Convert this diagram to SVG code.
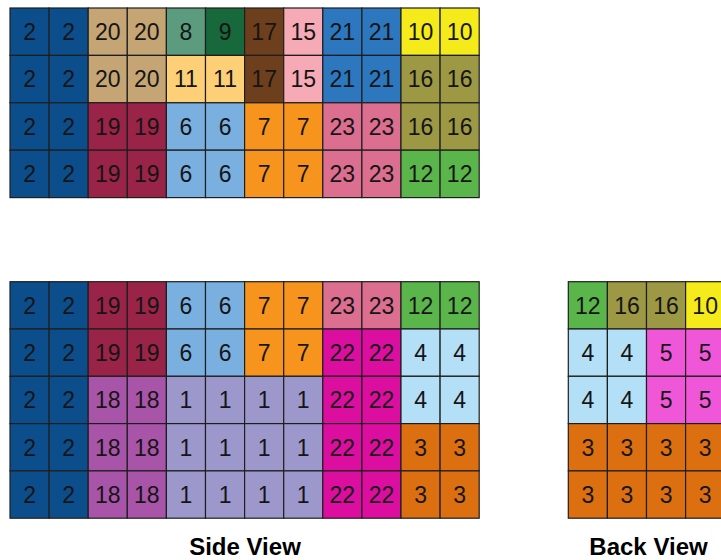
<svg xmlns="http://www.w3.org/2000/svg" width="721" height="560" viewBox="0 0 721 560">
<style>
.cell{stroke:#1e1e1e;stroke-width:1.2}
.l{font-family:"Liberation Sans",Arial,sans-serif;font-size:23px;fill:#151515;text-anchor:middle}
.ttl{font-family:"Liberation Sans",Arial,sans-serif;font-size:24px;font-weight:bold;fill:#000;text-anchor:middle}
.k1{fill:#9c98cc}.k2{fill:#0c4e8c}.k3{fill:#dc6f10}.k4{fill:#b3e0f6}.k5{fill:#f056d8}.k6{fill:#7ab0e0}.k7{fill:#f7941d}.k8{fill:#5b9b7e}.k9{fill:#17683a}.k10{fill:#f5ea1a}.k11{fill:#fdd078}.k12{fill:#5ab54b}.k15{fill:#f5aab5}.k16{fill:#9c9844}.k17{fill:#6e3f1c}.k18{fill:#a854a8}.k19{fill:#9a2448}.k20{fill:#c6a574}.k21{fill:#2c77be}.k22{fill:#dc0ea0}.k23{fill:#dc6e8f}
</style>
<g id="top-view">
<g id="t00"><rect class="cell k2" x="10" y="8" width="39.1" height="47.4"/><text class="l" x="29.55" y="40">2</text></g>
<g id="t01"><rect class="cell k2" x="49.1" y="8" width="39.1" height="47.4"/><text class="l" x="68.65" y="40">2</text></g>
<g id="t02"><rect class="cell k20" x="88.2" y="8" width="39.1" height="47.4"/><text class="l" x="107.75" y="40">20</text></g>
<g id="t03"><rect class="cell k20" x="127.3" y="8" width="39.1" height="47.4"/><text class="l" x="146.85" y="40">20</text></g>
<g id="t04"><rect class="cell k8" x="166.4" y="8" width="39.1" height="47.4"/><text class="l" x="185.95" y="40">8</text></g>
<g id="t05"><rect class="cell k9" x="205.5" y="8" width="39.1" height="47.4"/><text class="l" x="225.05" y="40">9</text></g>
<g id="t06"><rect class="cell k17" x="244.6" y="8" width="39.1" height="47.4"/><text class="l" x="264.15" y="40">17</text></g>
<g id="t07"><rect class="cell k15" x="283.7" y="8" width="39.1" height="47.4"/><text class="l" x="303.25" y="40">15</text></g>
<g id="t08"><rect class="cell k21" x="322.8" y="8" width="39.1" height="47.4"/><text class="l" x="342.35" y="40">21</text></g>
<g id="t09"><rect class="cell k21" x="361.9" y="8" width="39.1" height="47.4"/><text class="l" x="381.45" y="40">21</text></g>
<g id="t010"><rect class="cell k10" x="401" y="8" width="39.1" height="47.4"/><text class="l" x="420.55" y="40">10</text></g>
<g id="t011"><rect class="cell k10" x="440.1" y="8" width="39.1" height="47.4"/><text class="l" x="459.65" y="40">10</text></g>

<g id="t10"><rect class="cell k2" x="10" y="55.4" width="39.1" height="47.4"/><text class="l" x="29.55" y="87.4">2</text></g>
<g id="t11"><rect class="cell k2" x="49.1" y="55.4" width="39.1" height="47.4"/><text class="l" x="68.65" y="87.4">2</text></g>
<g id="t12"><rect class="cell k20" x="88.2" y="55.4" width="39.1" height="47.4"/><text class="l" x="107.75" y="87.4">20</text></g>
<g id="t13"><rect class="cell k20" x="127.3" y="55.4" width="39.1" height="47.4"/><text class="l" x="146.85" y="87.4">20</text></g>
<g id="t14"><rect class="cell k11" x="166.4" y="55.4" width="39.1" height="47.4"/><text class="l" x="185.95" y="87.4">11</text></g>
<g id="t15"><rect class="cell k11" x="205.5" y="55.4" width="39.1" height="47.4"/><text class="l" x="225.05" y="87.4">11</text></g>
<g id="t16"><rect class="cell k17" x="244.6" y="55.4" width="39.1" height="47.4"/><text class="l" x="264.15" y="87.4">17</text></g>
<g id="t17"><rect class="cell k15" x="283.7" y="55.4" width="39.1" height="47.4"/><text class="l" x="303.25" y="87.4">15</text></g>
<g id="t18"><rect class="cell k21" x="322.8" y="55.4" width="39.1" height="47.4"/><text class="l" x="342.35" y="87.4">21</text></g>
<g id="t19"><rect class="cell k21" x="361.9" y="55.4" width="39.1" height="47.4"/><text class="l" x="381.45" y="87.4">21</text></g>
<g id="t110"><rect class="cell k16" x="401" y="55.4" width="39.1" height="47.4"/><text class="l" x="420.55" y="87.4">16</text></g>
<g id="t111"><rect class="cell k16" x="440.1" y="55.4" width="39.1" height="47.4"/><text class="l" x="459.65" y="87.4">16</text></g>

<g id="t20"><rect class="cell k2" x="10" y="102.8" width="39.1" height="47.4"/><text class="l" x="29.55" y="134.8">2</text></g>
<g id="t21"><rect class="cell k2" x="49.1" y="102.8" width="39.1" height="47.4"/><text class="l" x="68.65" y="134.8">2</text></g>
<g id="t22"><rect class="cell k19" x="88.2" y="102.8" width="39.1" height="47.4"/><text class="l" x="107.75" y="134.8">19</text></g>
<g id="t23"><rect class="cell k19" x="127.3" y="102.8" width="39.1" height="47.4"/><text class="l" x="146.85" y="134.8">19</text></g>
<g id="t24"><rect class="cell k6" x="166.4" y="102.8" width="39.1" height="47.4"/><text class="l" x="185.95" y="134.8">6</text></g>
<g id="t25"><rect class="cell k6" x="205.5" y="102.8" width="39.1" height="47.4"/><text class="l" x="225.05" y="134.8">6</text></g>
<g id="t26"><rect class="cell k7" x="244.6" y="102.8" width="39.1" height="47.4"/><text class="l" x="264.15" y="134.8">7</text></g>
<g id="t27"><rect class="cell k7" x="283.7" y="102.8" width="39.1" height="47.4"/><text class="l" x="303.25" y="134.8">7</text></g>
<g id="t28"><rect class="cell k23" x="322.8" y="102.8" width="39.1" height="47.4"/><text class="l" x="342.35" y="134.8">23</text></g>
<g id="t29"><rect class="cell k23" x="361.9" y="102.8" width="39.1" height="47.4"/><text class="l" x="381.45" y="134.8">23</text></g>
<g id="t210"><rect class="cell k16" x="401" y="102.8" width="39.1" height="47.4"/><text class="l" x="420.55" y="134.8">16</text></g>
<g id="t211"><rect class="cell k16" x="440.1" y="102.8" width="39.1" height="47.4"/><text class="l" x="459.65" y="134.8">16</text></g>

<g id="t30"><rect class="cell k2" x="10" y="150.2" width="39.1" height="47.4"/><text class="l" x="29.55" y="182.2">2</text></g>
<g id="t31"><rect class="cell k2" x="49.1" y="150.2" width="39.1" height="47.4"/><text class="l" x="68.65" y="182.2">2</text></g>
<g id="t32"><rect class="cell k19" x="88.2" y="150.2" width="39.1" height="47.4"/><text class="l" x="107.75" y="182.2">19</text></g>
<g id="t33"><rect class="cell k19" x="127.3" y="150.2" width="39.1" height="47.4"/><text class="l" x="146.85" y="182.2">19</text></g>
<g id="t34"><rect class="cell k6" x="166.4" y="150.2" width="39.1" height="47.4"/><text class="l" x="185.95" y="182.2">6</text></g>
<g id="t35"><rect class="cell k6" x="205.5" y="150.2" width="39.1" height="47.4"/><text class="l" x="225.05" y="182.2">6</text></g>
<g id="t36"><rect class="cell k7" x="244.6" y="150.2" width="39.1" height="47.4"/><text class="l" x="264.15" y="182.2">7</text></g>
<g id="t37"><rect class="cell k7" x="283.7" y="150.2" width="39.1" height="47.4"/><text class="l" x="303.25" y="182.2">7</text></g>
<g id="t38"><rect class="cell k23" x="322.8" y="150.2" width="39.1" height="47.4"/><text class="l" x="342.35" y="182.2">23</text></g>
<g id="t39"><rect class="cell k23" x="361.9" y="150.2" width="39.1" height="47.4"/><text class="l" x="381.45" y="182.2">23</text></g>
<g id="t310"><rect class="cell k12" x="401" y="150.2" width="39.1" height="47.4"/><text class="l" x="420.55" y="182.2">12</text></g>
<g id="t311"><rect class="cell k12" x="440.1" y="150.2" width="39.1" height="47.4"/><text class="l" x="459.65" y="182.2">12</text></g>
</g>

<g id="side-view">
<g id="s00"><rect class="cell k2" x="10" y="281.7" width="39.1" height="47.3"/><text class="l" x="29.55" y="313.7">2</text></g>
<g id="s01"><rect class="cell k2" x="49.1" y="281.7" width="39.1" height="47.3"/><text class="l" x="68.65" y="313.7">2</text></g>
<g id="s02"><rect class="cell k19" x="88.2" y="281.7" width="39.1" height="47.3"/><text class="l" x="107.75" y="313.7">19</text></g>
<g id="s03"><rect class="cell k19" x="127.3" y="281.7" width="39.1" height="47.3"/><text class="l" x="146.85" y="313.7">19</text></g>
<g id="s04"><rect class="cell k6" x="166.4" y="281.7" width="39.1" height="47.3"/><text class="l" x="185.95" y="313.7">6</text></g>
<g id="s05"><rect class="cell k6" x="205.5" y="281.7" width="39.1" height="47.3"/><text class="l" x="225.05" y="313.7">6</text></g>
<g id="s06"><rect class="cell k7" x="244.6" y="281.7" width="39.1" height="47.3"/><text class="l" x="264.15" y="313.7">7</text></g>
<g id="s07"><rect class="cell k7" x="283.7" y="281.7" width="39.1" height="47.3"/><text class="l" x="303.25" y="313.7">7</text></g>
<g id="s08"><rect class="cell k23" x="322.8" y="281.7" width="39.1" height="47.3"/><text class="l" x="342.35" y="313.7">23</text></g>
<g id="s09"><rect class="cell k23" x="361.9" y="281.7" width="39.1" height="47.3"/><text class="l" x="381.45" y="313.7">23</text></g>
<g id="s010"><rect class="cell k12" x="401" y="281.7" width="39.1" height="47.3"/><text class="l" x="420.55" y="313.7">12</text></g>
<g id="s011"><rect class="cell k12" x="440.1" y="281.7" width="39.1" height="47.3"/><text class="l" x="459.65" y="313.7">12</text></g>

<g id="s10"><rect class="cell k2" x="10" y="329" width="39.1" height="47.3"/><text class="l" x="29.55" y="361">2</text></g>
<g id="s11"><rect class="cell k2" x="49.1" y="329" width="39.1" height="47.3"/><text class="l" x="68.65" y="361">2</text></g>
<g id="s12"><rect class="cell k19" x="88.2" y="329" width="39.1" height="47.3"/><text class="l" x="107.75" y="361">19</text></g>
<g id="s13"><rect class="cell k19" x="127.3" y="329" width="39.1" height="47.3"/><text class="l" x="146.85" y="361">19</text></g>
<g id="s14"><rect class="cell k6" x="166.4" y="329" width="39.1" height="47.3"/><text class="l" x="185.95" y="361">6</text></g>
<g id="s15"><rect class="cell k6" x="205.5" y="329" width="39.1" height="47.3"/><text class="l" x="225.05" y="361">6</text></g>
<g id="s16"><rect class="cell k7" x="244.6" y="329" width="39.1" height="47.3"/><text class="l" x="264.15" y="361">7</text></g>
<g id="s17"><rect class="cell k7" x="283.7" y="329" width="39.1" height="47.3"/><text class="l" x="303.25" y="361">7</text></g>
<g id="s18"><rect class="cell k22" x="322.8" y="329" width="39.1" height="47.3"/><text class="l" x="342.35" y="361">22</text></g>
<g id="s19"><rect class="cell k22" x="361.9" y="329" width="39.1" height="47.3"/><text class="l" x="381.45" y="361">22</text></g>
<g id="s110"><rect class="cell k4" x="401" y="329" width="39.1" height="47.3"/><text class="l" x="420.55" y="361">4</text></g>
<g id="s111"><rect class="cell k4" x="440.1" y="329" width="39.1" height="47.3"/><text class="l" x="459.65" y="361">4</text></g>

<g id="s20"><rect class="cell k2" x="10" y="376.3" width="39.1" height="47.3"/><text class="l" x="29.55" y="408.3">2</text></g>
<g id="s21"><rect class="cell k2" x="49.1" y="376.3" width="39.1" height="47.3"/><text class="l" x="68.65" y="408.3">2</text></g>
<g id="s22"><rect class="cell k18" x="88.2" y="376.3" width="39.1" height="47.3"/><text class="l" x="107.75" y="408.3">18</text></g>
<g id="s23"><rect class="cell k18" x="127.3" y="376.3" width="39.1" height="47.3"/><text class="l" x="146.85" y="408.3">18</text></g>
<g id="s24"><rect class="cell k1" x="166.4" y="376.3" width="39.1" height="47.3"/><text class="l" x="185.95" y="408.3">1</text></g>
<g id="s25"><rect class="cell k1" x="205.5" y="376.3" width="39.1" height="47.3"/><text class="l" x="225.05" y="408.3">1</text></g>
<g id="s26"><rect class="cell k1" x="244.6" y="376.3" width="39.1" height="47.3"/><text class="l" x="264.15" y="408.3">1</text></g>
<g id="s27"><rect class="cell k1" x="283.7" y="376.3" width="39.1" height="47.3"/><text class="l" x="303.25" y="408.3">1</text></g>
<g id="s28"><rect class="cell k22" x="322.8" y="376.3" width="39.1" height="47.3"/><text class="l" x="342.35" y="408.3">22</text></g>
<g id="s29"><rect class="cell k22" x="361.9" y="376.3" width="39.1" height="47.3"/><text class="l" x="381.45" y="408.3">22</text></g>
<g id="s210"><rect class="cell k4" x="401" y="376.3" width="39.1" height="47.3"/><text class="l" x="420.55" y="408.3">4</text></g>
<g id="s211"><rect class="cell k4" x="440.1" y="376.3" width="39.1" height="47.3"/><text class="l" x="459.65" y="408.3">4</text></g>

<g id="s30"><rect class="cell k2" x="10" y="423.6" width="39.1" height="47.3"/><text class="l" x="29.55" y="455.6">2</text></g>
<g id="s31"><rect class="cell k2" x="49.1" y="423.6" width="39.1" height="47.3"/><text class="l" x="68.65" y="455.6">2</text></g>
<g id="s32"><rect class="cell k18" x="88.2" y="423.6" width="39.1" height="47.3"/><text class="l" x="107.75" y="455.6">18</text></g>
<g id="s33"><rect class="cell k18" x="127.3" y="423.6" width="39.1" height="47.3"/><text class="l" x="146.85" y="455.6">18</text></g>
<g id="s34"><rect class="cell k1" x="166.4" y="423.6" width="39.1" height="47.3"/><text class="l" x="185.95" y="455.6">1</text></g>
<g id="s35"><rect class="cell k1" x="205.5" y="423.6" width="39.1" height="47.3"/><text class="l" x="225.05" y="455.6">1</text></g>
<g id="s36"><rect class="cell k1" x="244.6" y="423.6" width="39.1" height="47.3"/><text class="l" x="264.15" y="455.6">1</text></g>
<g id="s37"><rect class="cell k1" x="283.7" y="423.6" width="39.1" height="47.3"/><text class="l" x="303.25" y="455.6">1</text></g>
<g id="s38"><rect class="cell k22" x="322.8" y="423.6" width="39.1" height="47.3"/><text class="l" x="342.35" y="455.6">22</text></g>
<g id="s39"><rect class="cell k22" x="361.9" y="423.6" width="39.1" height="47.3"/><text class="l" x="381.45" y="455.6">22</text></g>
<g id="s310"><rect class="cell k3" x="401" y="423.6" width="39.1" height="47.3"/><text class="l" x="420.55" y="455.6">3</text></g>
<g id="s311"><rect class="cell k3" x="440.1" y="423.6" width="39.1" height="47.3"/><text class="l" x="459.65" y="455.6">3</text></g>

<g id="s40"><rect class="cell k2" x="10" y="470.9" width="39.1" height="47.3"/><text class="l" x="29.55" y="502.9">2</text></g>
<g id="s41"><rect class="cell k2" x="49.1" y="470.9" width="39.1" height="47.3"/><text class="l" x="68.65" y="502.9">2</text></g>
<g id="s42"><rect class="cell k18" x="88.2" y="470.9" width="39.1" height="47.3"/><text class="l" x="107.75" y="502.9">18</text></g>
<g id="s43"><rect class="cell k18" x="127.3" y="470.9" width="39.1" height="47.3"/><text class="l" x="146.85" y="502.9">18</text></g>
<g id="s44"><rect class="cell k1" x="166.4" y="470.9" width="39.1" height="47.3"/><text class="l" x="185.95" y="502.9">1</text></g>
<g id="s45"><rect class="cell k1" x="205.5" y="470.9" width="39.1" height="47.3"/><text class="l" x="225.05" y="502.9">1</text></g>
<g id="s46"><rect class="cell k1" x="244.6" y="470.9" width="39.1" height="47.3"/><text class="l" x="264.15" y="502.9">1</text></g>
<g id="s47"><rect class="cell k1" x="283.7" y="470.9" width="39.1" height="47.3"/><text class="l" x="303.25" y="502.9">1</text></g>
<g id="s48"><rect class="cell k22" x="322.8" y="470.9" width="39.1" height="47.3"/><text class="l" x="342.35" y="502.9">22</text></g>
<g id="s49"><rect class="cell k22" x="361.9" y="470.9" width="39.1" height="47.3"/><text class="l" x="381.45" y="502.9">22</text></g>
<g id="s410"><rect class="cell k3" x="401" y="470.9" width="39.1" height="47.3"/><text class="l" x="420.55" y="502.9">3</text></g>
<g id="s411"><rect class="cell k3" x="440.1" y="470.9" width="39.1" height="47.3"/><text class="l" x="459.65" y="502.9">3</text></g>
<text id="side-title" class="ttl" x="245" y="555">Side View</text>
</g>

<g id="back-view">
<g id="b00"><rect class="cell k12" x="568.3" y="281.7" width="39.1" height="47.3"/><text class="l" x="587.85" y="313.7">12</text></g>
<g id="b01"><rect class="cell k16" x="607.4" y="281.7" width="39.1" height="47.3"/><text class="l" x="626.95" y="313.7">16</text></g>
<g id="b02"><rect class="cell k16" x="646.5" y="281.7" width="39.1" height="47.3"/><text class="l" x="666.05" y="313.7">16</text></g>
<g id="b03"><rect class="cell k10" x="685.6" y="281.7" width="39.1" height="47.3"/><text class="l" x="705.15" y="313.7">10</text></g>
<g id="b10"><rect class="cell k4" x="568.3" y="329" width="39.1" height="47.3"/><text class="l" x="587.85" y="361">4</text></g>
<g id="b11"><rect class="cell k4" x="607.4" y="329" width="39.1" height="47.3"/><text class="l" x="626.95" y="361">4</text></g>
<g id="b12"><rect class="cell k5" x="646.5" y="329" width="39.1" height="47.3"/><text class="l" x="666.05" y="361">5</text></g>
<g id="b13"><rect class="cell k5" x="685.6" y="329" width="39.1" height="47.3"/><text class="l" x="705.15" y="361">5</text></g>
<g id="b20"><rect class="cell k4" x="568.3" y="376.3" width="39.1" height="47.3"/><text class="l" x="587.85" y="408.3">4</text></g>
<g id="b21"><rect class="cell k4" x="607.4" y="376.3" width="39.1" height="47.3"/><text class="l" x="626.95" y="408.3">4</text></g>
<g id="b22"><rect class="cell k5" x="646.5" y="376.3" width="39.1" height="47.3"/><text class="l" x="666.05" y="408.3">5</text></g>
<g id="b23"><rect class="cell k5" x="685.6" y="376.3" width="39.1" height="47.3"/><text class="l" x="705.15" y="408.3">5</text></g>
<g id="b30"><rect class="cell k3" x="568.3" y="423.6" width="39.1" height="47.3"/><text class="l" x="587.85" y="455.6">3</text></g>
<g id="b31"><rect class="cell k3" x="607.4" y="423.6" width="39.1" height="47.3"/><text class="l" x="626.95" y="455.6">3</text></g>
<g id="b32"><rect class="cell k3" x="646.5" y="423.6" width="39.1" height="47.3"/><text class="l" x="666.05" y="455.6">3</text></g>
<g id="b33"><rect class="cell k3" x="685.6" y="423.6" width="39.1" height="47.3"/><text class="l" x="705.15" y="455.6">3</text></g>
<g id="b40"><rect class="cell k3" x="568.3" y="470.9" width="39.1" height="47.3"/><text class="l" x="587.85" y="502.9">3</text></g>
<g id="b41"><rect class="cell k3" x="607.4" y="470.9" width="39.1" height="47.3"/><text class="l" x="626.95" y="502.9">3</text></g>
<g id="b42"><rect class="cell k3" x="646.5" y="470.9" width="39.1" height="47.3"/><text class="l" x="666.05" y="502.9">3</text></g>
<g id="b43"><rect class="cell k3" x="685.6" y="470.9" width="39.1" height="47.3"/><text class="l" x="705.15" y="502.9">3</text></g>
<text id="back-title" class="ttl" x="648.5" y="555">Back View</text>
</g>
<g id="connectors"/>
</svg>
